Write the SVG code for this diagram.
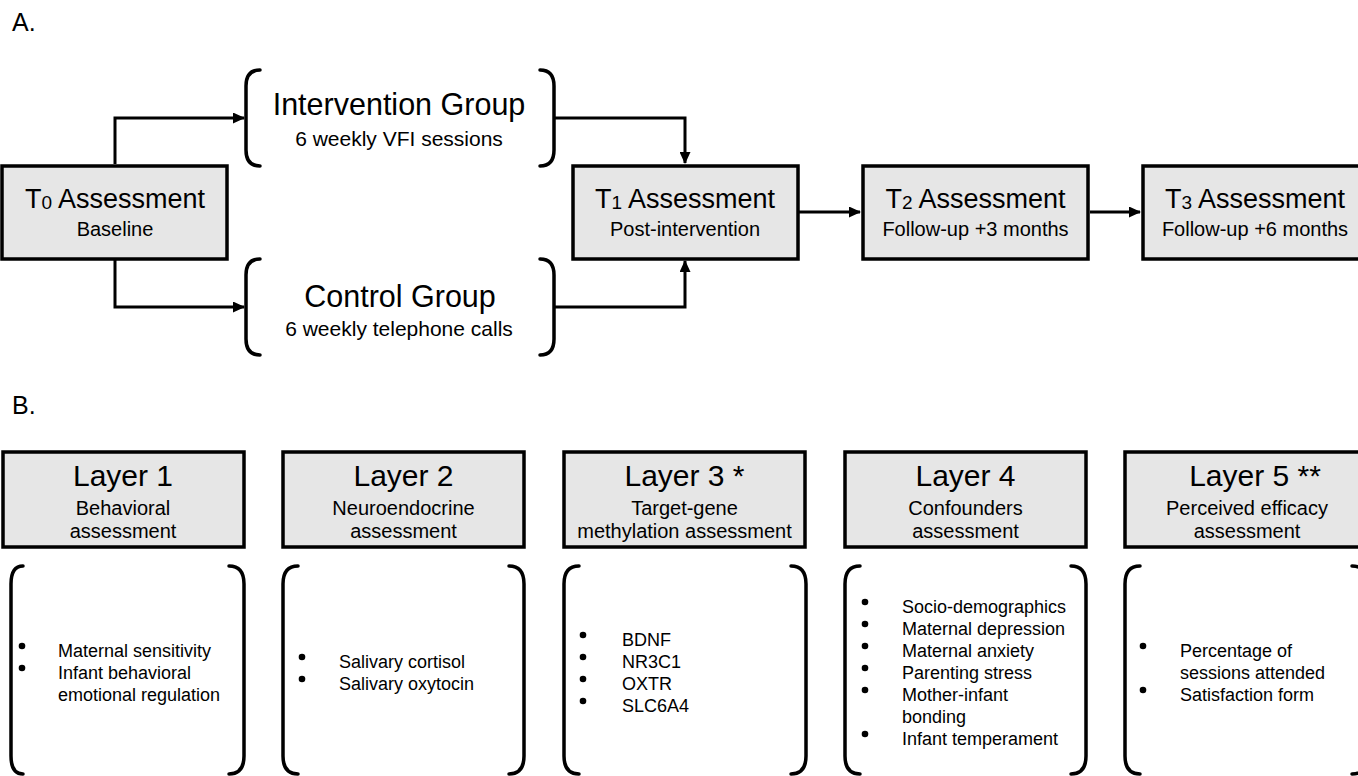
<svg xmlns="http://www.w3.org/2000/svg" width="1358" height="776" viewBox="0 0 1358 776">
<defs>
<style>
text{font-family:"Liberation Sans",Arial,sans-serif;fill:#000}
.box{fill:#e6e6e6;stroke:#000;stroke-width:3.5}
.br{fill:none;stroke:#000;stroke-width:3.5;stroke-linecap:round}
.con{fill:none;stroke:#000;stroke-width:3}
.t1{font-size:27px;text-anchor:middle}
.t2{font-size:20px;text-anchor:middle}
.g1{font-size:30.5px;text-anchor:middle}
.g2{font-size:21px;text-anchor:middle}
.h1{font-size:30px;text-anchor:middle}
.li{font-size:18px}
.sec{font-size:25px}
.dot{fill:#000}
</style>
<marker id="ah" markerUnits="userSpaceOnUse" markerWidth="12" markerHeight="11" refX="11" refY="5.5" orient="auto">
<path d="M0,0 L12,5.5 L0,11 z" fill="#000"/>
</marker>
</defs>
<text class="sec" x="12" y="31">A.</text>
<text class="sec" x="12" y="414">B.</text>

<g id="connectors">
<path class="con" d="M115,164 V118 H244" marker-end="url(#ah)"/>
<path class="con" d="M115,260 V307 H244" marker-end="url(#ah)"/>
<path class="con" d="M554,118 H685 V163" marker-end="url(#ah)"/>
<path class="con" d="M554,307 H685 V261" marker-end="url(#ah)"/>
<path class="con" d="M799,212 H860" marker-end="url(#ah)"/>
<path class="con" d="M1090,212 H1140" marker-end="url(#ah)"/>
</g>

<g id="t0">
<rect class="box" x="2" y="166" width="225" height="93"/>
<text class="t1" x="115" y="208">T<tspan font-size="19" dy="1">0</tspan><tspan dy="-1"> Assessment</tspan></text>
<text class="t2" x="115" y="236">Baseline</text>
</g>
<g id="intervention">
<path class="br" d="M260,70 C250,70 246,76 246,86 V150 C246,160 250,166 260,166"/>
<path class="br" d="M540,70 C550,70 554,76 554,86 V150 C554,160 550,166 540,166"/>
<text class="g1" x="399" y="115">Intervention Group</text>
<text class="g2" x="399" y="146">6 weekly VFI sessions</text>
</g>
<g id="control">
<path class="br" d="M260,259 C250,259 246,265 246,275 V339 C246,349 250,355 260,355"/>
<path class="br" d="M540,259 C550,259 554,265 554,275 V339 C554,349 550,355 540,355"/>
<text class="g1" x="400" y="307">Control Group</text>
<text class="g2" x="399" y="336">6 weekly telephone calls</text>
</g>
<g id="t1">
<rect class="box" x="573" y="166" width="225" height="93"/>
<text class="t1" x="685" y="208">T<tspan font-size="19" dy="1">1</tspan><tspan dy="-1"> Assessment</tspan></text>
<text class="t2" x="685" y="236">Post-intervention</text>
</g>
<g id="t2">
<rect class="box" x="863" y="166" width="225" height="93"/>
<text class="t1" x="975.5" y="208">T<tspan font-size="19" dy="1">2</tspan><tspan dy="-1"> Assessment</tspan></text>
<text class="t2" x="975.5" y="236">Follow-up +3 months</text>
</g>
<g id="t3">
<rect class="box" x="1143" y="166" width="225" height="93"/>
<text class="t1" x="1255" y="208">T<tspan font-size="19" dy="1">3</tspan><tspan dy="-1"> Assessment</tspan></text>
<text class="t2" x="1255" y="236">Follow-up +6 months</text>
</g>

<g id="layer1">
<rect class="box" x="3" y="452" width="241" height="95"/>
<text class="h1" x="123" y="486">Layer 1</text>
<text class="t2" x="123" y="515">Behavioral</text>
<text class="t2" x="123" y="538">assessment</text>
<path class="br" d="M23,566 C15,566 11,572 11,584 V756 C11,768 15,774 23,774"/>
<path class="br" d="M229,566 C239,566 244,572 244,584 V756 C244,768 239,774 229,774"/>
<circle class="dot" cx="22" cy="646" r="3.3"/>
<circle class="dot" cx="22" cy="668" r="3.3"/>
<text class="li" x="58" y="657">Maternal sensitivity</text>
<text class="li" x="58" y="679">Infant behavioral</text>
<text class="li" x="58" y="701">emotional regulation</text>
</g>
<g id="layer2">
<rect class="box" x="283" y="452" width="241" height="95"/>
<text class="h1" x="403.5" y="486">Layer 2</text>
<text class="t2" x="403.5" y="515">Neuroendocrine</text>
<text class="t2" x="403.5" y="538">assessment</text>
<path class="br" d="M298,566 C288,566 283,572 283,584 V756 C283,768 288,774 298,774"/>
<path class="br" d="M509,566 C519,566 524,572 524,584 V756 C524,768 519,774 509,774"/>
<circle class="dot" cx="302" cy="657" r="3.3"/>
<circle class="dot" cx="302" cy="679" r="3.3"/>
<text class="li" x="339" y="668">Salivary cortisol</text>
<text class="li" x="339" y="690">Salivary oxytocin</text>
</g>
<g id="layer3">
<rect class="box" x="564" y="452" width="241" height="95"/>
<text class="h1" x="684.5" y="486">Layer 3 *</text>
<text class="t2" x="684.5" y="515">Target-gene</text>
<text class="t2" x="684.5" y="538">methylation assessment</text>
<path class="br" d="M579,566 C569,566 564,572 564,584 V756 C564,768 569,774 579,774"/>
<path class="br" d="M791,566 C801,566 806,572 806,584 V756 C806,768 801,774 791,774"/>
<circle class="dot" cx="583" cy="635" r="3.3"/>
<circle class="dot" cx="583" cy="657" r="3.3"/>
<circle class="dot" cx="583" cy="679" r="3.3"/>
<circle class="dot" cx="583" cy="701" r="3.3"/>
<text class="li" x="622" y="646">BDNF</text>
<text class="li" x="622" y="668">NR3C1</text>
<text class="li" x="622" y="690">OXTR</text>
<text class="li" x="622" y="712">SLC6A4</text>
</g>
<g id="layer4">
<rect class="box" x="845" y="452" width="241" height="95"/>
<text class="h1" x="965.5" y="486">Layer 4</text>
<text class="t2" x="965.5" y="515">Confounders</text>
<text class="t2" x="965.5" y="538">assessment</text>
<path class="br" d="M860,566 C850,566 845,572 845,584 V756 C845,768 850,774 860,774"/>
<path class="br" d="M1071,566 C1081,566 1086,572 1086,584 V756 C1086,768 1081,774 1071,774"/>
<circle class="dot" cx="865" cy="602" r="3.3"/>
<circle class="dot" cx="865" cy="624" r="3.3"/>
<circle class="dot" cx="865" cy="646" r="3.3"/>
<circle class="dot" cx="865" cy="668" r="3.3"/>
<circle class="dot" cx="865" cy="690" r="3.3"/>
<circle class="dot" cx="865" cy="734" r="3.3"/>
<text class="li" x="902" y="613">Socio-demographics</text>
<text class="li" x="902" y="635">Maternal depression</text>
<text class="li" x="902" y="657">Maternal anxiety</text>
<text class="li" x="902" y="679">Parenting stress</text>
<text class="li" x="902" y="701">Mother-infant</text>
<text class="li" x="902" y="723">bonding</text>
<text class="li" x="902" y="745">Infant temperament</text>
</g>
<g id="layer5">
<rect class="box" x="1125" y="452" width="241" height="95"/>
<text class="h1" x="1255" y="486">Layer 5 **</text>
<text class="t2" x="1247" y="515">Perceived efficacy</text>
<text class="t2" x="1247" y="538">assessment</text>
<path class="br" d="M1140,566 C1130,566 1125,572 1125,584 V756 C1125,768 1130,774 1140,774"/>
<path class="br" d="M1352,566 C1362,566 1367,572 1367,584 V756 C1367,768 1362,774 1352,774"/>
<circle class="dot" cx="1143" cy="646" r="3.3"/>
<circle class="dot" cx="1143" cy="690" r="3.3"/>
<text class="li" x="1180" y="657">Percentage of</text>
<text class="li" x="1180" y="679">sessions attended</text>
<text class="li" x="1180" y="701">Satisfaction form</text>
</g>
</svg>
